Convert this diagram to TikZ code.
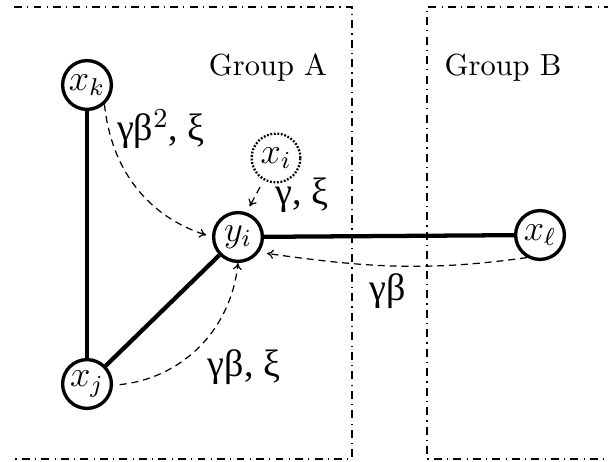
\documentclass[tikz,border=0pt]{standalone}
\usepackage{fontspec}
\newfontfamily\grk{Liberation Serif}
\usetikzlibrary{arrows.meta}
\tikzset{
  vertex/.style={circle, draw, line width=1.1pt, minimum size=16pt, inner sep=0pt, font=\fontsize{11.5}{13}\selectfont},
  ghost/.style={circle, draw, line width=0.75pt, dash pattern=on 0.6pt off 0.55pt, minimum size=16pt, inner sep=0pt, font=\fontsize{11.5}{13}\selectfont},
  edge/.style={line width=1.4pt},
  flow/.style={line width=0.4pt, dash pattern=on 2.3pt off 1.6pt, -{To[length=2.2pt,width=3pt]}},
  groupline/.style={line width=0.4pt, dash pattern=on 2.6pt off 1.7pt on 0.4pt off 1.7pt},
  lbl/.style={inner sep=0pt, font=\grk\fontsize{12.5}{14}\selectfont},
}
\begin{document}
\begin{tikzpicture}[x=0.328pt, y=0.328pt]
  \useasboundingbox (0,0) rectangle (608,-462);
  \begin{scope}
    \clip (0,0) rectangle (608,-462);
    % group frames
    \draw[groupline] (14,-7) -- (352,-7) -- (352,-459) -- (14,-459);
    \draw[groupline] (612,-7) -- (427,-7) -- (427,-459) -- (612,-459);
  \end{scope}
  \node[anchor=base] (ga) at (268,-76) {Group A};
  \node[anchor=base] (gb) at (503,-76) {Group B};

  % vertices
  \node[vertex] (xk) at (87,-85) {$x_k$};
  \node[vertex] (xj) at (87,-384) {$x_j$};
  \node[vertex] (yi) at (238,-237) {$y_i$};
  \node[vertex] (xl) at (540,-235) {$x_\ell$};
  \node[ghost] (xi) at (276,-158) {$x_i$};

  % solid edges
  \draw[edge] (xk) -- (xj);
  \draw[edge] (xj) -- (yi);
  \draw[edge] (yi) -- (xl);

  % message flows
  \draw[flow, shorten >=2pt] (xk.-48) to[out=-84, in=162] (yi.west);
  \draw[flow, shorten <=2.5pt, shorten >=2.2pt] (xi.-119) -- (yi.71);
  \draw[flow, shorten >=2.6pt] (xl.-120) to[out=188, in=-8] (yi.-36);
  \draw[flow, shorten <=2.2pt] (xj.-3) to[out=6, in=-96] (yi.south);

  % labels
  \node[lbl] (l1) at (161,-129) {γβ$^2$, ξ};
  \node[lbl] (l2) at (302,-195) {γ, ξ};
  \node[lbl] (l3) at (388,-291) {γβ};
  \node[lbl] (l4) at (244,-367) {γβ, ξ};
\end{tikzpicture}
\end{document}
